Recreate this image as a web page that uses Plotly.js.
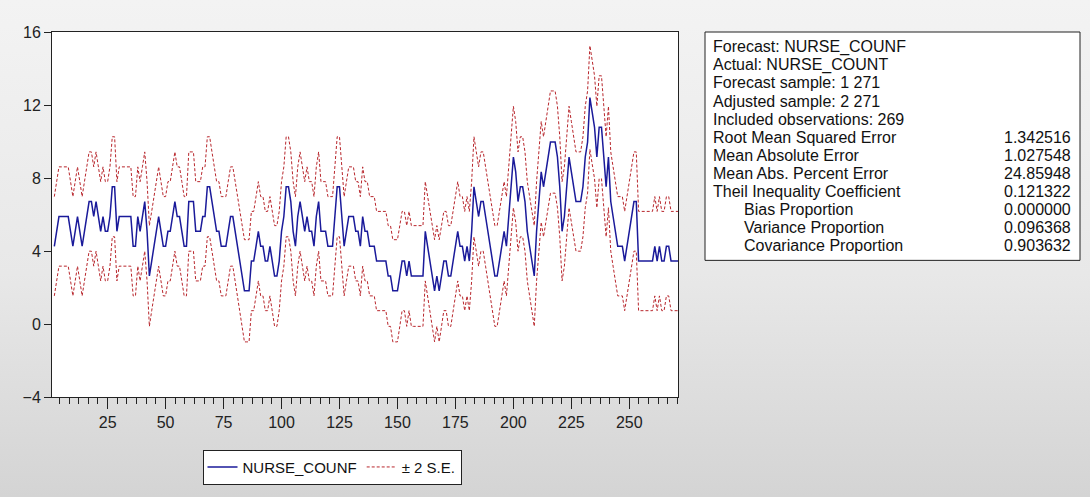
<!DOCTYPE html>
<html><head><meta charset="utf-8">
<script src="https://cdn.plot.ly/plotly-3.0.1.min.js"></script>
<style>
html,body{margin:0;padding:0;}
body{width:1090px;height:497px;background:linear-gradient(to bottom,#f3f3f3 0%,#e8e8e8 55%,#d4d4d4 100%);overflow:hidden;}
#chart{width:1090px;height:497px;}
</style></head><body><div id="chart"></div>
<script>
// Forecast NURSE_COUNF, observations 2..271
const forecast = [
4.26,5.08,5.89,5.89,5.89,5.89,5.89,5.08,4.26,5.08,5.89,5.08,4.26,5.08,5.89,6.71,6.71,5.89,6.71,5.89,5.08,5.89,5.08,5.08,5.89,7.52,7.52,5.08,5.89,5.89,5.89,5.89,5.89,5.89,
4.26,4.26,5.89,5.08,5.89,6.71,5.08,2.63,3.45,4.26,5.08,5.89,5.08,4.26,4.26,5.08,5.08,5.89,6.71,5.89,5.89,5.08,4.26,4.26,6.71,6.71,6.71,5.08,5.08,5.08,5.89,5.89,
7.52,7.52,6.71,5.89,5.08,5.08,4.26,4.26,4.26,5.08,5.89,5.89,5.08,4.26,3.45,2.63,1.82,1.82,1.82,3.45,3.45,4.26,5.08,4.26,4.26,3.45,3.45,4.26,3.45,2.63,2.63,3.45,5.08,5.89,7.52,7.52,
6.71,5.08,4.26,5.89,6.71,5.89,5.08,5.89,5.08,5.08,4.26,5.89,6.71,5.08,5.08,5.08,4.26,4.26,4.26,5.89,7.52,7.52,5.89,4.26,5.08,5.89,5.89,5.89,5.08,5.08,4.26,5.89,5.08,5.08,4.26,
4.26,4.26,3.45,3.45,3.45,3.45,3.45,2.63,2.63,1.82,1.82,1.82,2.63,3.45,3.45,2.63,3.45,2.63,2.63,2.63,2.63,2.63,2.63,5.08,4.26,3.45,2.63,1.82,2.63,1.82,2.63,3.45,3.45,2.63,
2.63,3.45,4.26,5.08,4.26,4.26,3.45,4.26,3.45,5.08,7.52,6.71,5.89,6.71,6.71,5.89,5.08,4.26,3.45,2.63,2.63,3.45,4.26,5.08,4.26,5.89,7.52,9.15,8.34,6.71,7.52,7.52,6.71,5.08,4.26,
3.45,2.63,5.08,6.71,8.34,7.52,8.34,9.15,9.97,9.97,9.97,9.15,7.52,5.08,5.89,7.52,9.15,8.34,7.52,6.71,6.71,6.71,7.52,9.15,9.97,12.41,11.60,10.78,9.15,10.78,10.78,9.15,7.52,9.15,
6.71,5.89,5.08,4.26,4.26,4.26,3.45,4.26,5.08,5.89,6.71,6.71,3.45,3.45,3.45,3.45,3.45,3.45,3.45,4.26,3.45,4.26,3.45,3.45,4.26,4.26,3.45,3.45,3.45,3.45
];
// Forecast standard errors, observations 2..271
const forecastSE = [
1.36,1.36,1.36,1.36,1.36,1.36,1.36,1.36,1.36,1.36,1.36,1.36,1.36,1.36,1.36,1.36,1.36,1.36,1.36,1.36,1.36,1.36,1.36,1.36,1.36,1.37,1.37,1.36,1.36,1.36,1.36,1.36,1.36,1.36,
1.36,1.36,1.36,1.36,1.36,1.36,1.36,1.38,1.36,1.36,1.36,1.36,1.36,1.36,1.36,1.36,1.36,1.36,1.36,1.36,1.36,1.36,1.36,1.36,1.36,1.36,1.36,1.36,1.36,1.36,1.36,1.36,
1.37,1.37,1.36,1.36,1.36,1.36,1.36,1.36,1.36,1.36,1.36,1.36,1.36,1.36,1.36,1.38,1.40,1.40,1.40,1.36,1.36,1.36,1.36,1.36,1.36,1.36,1.36,1.36,1.36,1.38,1.38,1.36,1.36,1.36,1.37,1.37,
1.36,1.36,1.36,1.36,1.36,1.36,1.36,1.36,1.36,1.36,1.36,1.36,1.36,1.36,1.36,1.36,1.36,1.36,1.36,1.36,1.37,1.37,1.36,1.36,1.36,1.36,1.36,1.36,1.36,1.36,1.36,1.36,1.36,1.36,1.36,
1.36,1.36,1.36,1.36,1.36,1.36,1.36,1.38,1.38,1.40,1.40,1.40,1.38,1.36,1.36,1.38,1.36,1.38,1.38,1.38,1.38,1.38,1.38,1.36,1.36,1.36,1.38,1.40,1.38,1.40,1.38,1.36,1.36,1.38,
1.38,1.36,1.36,1.36,1.36,1.36,1.36,1.36,1.36,1.36,1.37,1.36,1.36,1.36,1.36,1.36,1.36,1.36,1.36,1.38,1.38,1.36,1.36,1.36,1.36,1.36,1.37,1.39,1.38,1.36,1.37,1.37,1.36,1.36,1.36,
1.36,1.38,1.36,1.36,1.38,1.37,1.38,1.39,1.40,1.40,1.40,1.39,1.37,1.36,1.36,1.37,1.39,1.38,1.37,1.36,1.36,1.36,1.37,1.39,1.40,1.42,1.42,1.41,1.39,1.41,1.41,1.39,1.37,1.39,
1.36,1.36,1.36,1.36,1.36,1.36,1.36,1.36,1.36,1.36,1.36,1.36,1.36,1.36,1.36,1.36,1.36,1.36,1.36,1.36,1.36,1.36,1.36,1.36,1.36,1.36,1.36,1.36,1.36,1.36
];
const firstObs = 2;
const xTickVals = [25, 50, 75, 100, 125, 150, 175, 200, 225, 250];
const yTickVals = [-4, 0, 4, 8, 12, 16];
const seriesNames = ["NURSE_COUNF", "\u00B1 2 S.E."];
const statLabels = [
  "Forecast: NURSE_COUNF",
  "Actual: NURSE_COUNT",
  "Forecast sample: 1 271",
  "Adjusted sample: 2 271",
  "Included observations: 269",
  "Root Mean Squared Error",
  "Mean Absolute Error",
  "Mean Abs. Percent Error",
  "Theil Inequality Coefficient",
  "Bias Proportion",
  "Variance Proportion",
  "Covariance Proportion"
];
const statValues = ["", "", "", "", "", "1.342516", "1.027548", "24.85948", "0.121322", "0.000000", "0.096368", "0.903632"];
const statIndented = [false,false,false,false,false,false,false,false,false,true,true,true];

const obs = forecast.map((_, i) => i + firstObs);
const upper = forecast.map((v, i) => v + 2 * forecastSE[i]);
const lower = forecast.map((v, i) => v - 2 * forecastSE[i]);

// plot area in pixels
const W = 1090, H = 497;
const PL = 52, PR = 678, PT = 32, PB = 406;
const px2x = p => (p - PL) / (PR - PL);
const py2y = p => (PB - p) / (PB - PT);

const FONT = "Liberation Sans, Arial, sans-serif";
const blue = "#1a1a9a";
const red = "#b8262c";

const traces = [
  {x: obs, y: forecast, type: "scatter", mode: "lines", name: seriesNames[0],
   line: {color: blue, width: 1.5}},
  {x: obs, y: upper, type: "scatter", mode: "lines", name: seriesNames[1],
   line: {color: red, width: 1, dash: "3px,2px"}, legendgroup: "se"},
  {x: obs, y: lower, type: "scatter", mode: "lines", name: seriesNames[1], showlegend: false,
   line: {color: red, width: 1, dash: "3px,2px"}, legendgroup: "se"}
];

const boxTop = PT, lineH = 18.5, boxPad = 6;
const boxBottom = boxTop + boxPad * 2 + lineH * statLabels.length;
const shapes = [{
  type: "rect", xref: "paper", yref: "paper",
  x0: px2x(705), x1: px2x(1080), y0: py2y(boxBottom), y1: py2y(boxTop),
  line: {color: "#222", width: 1}, fillcolor: "#ffffff", layer: "below"
}];
const annotations = [];
statLabels.forEach((t, i) => {
  const yc = py2y(boxTop + boxPad + lineH * (i + 0.5));
  annotations.push({xref: "paper", yref: "paper", x: px2x(statIndented[i] ? 742 : 711), y: yc,
    xanchor: "left", yanchor: "middle", text: t, showarrow: false,
    font: {family: FONT, size: 16, color: "#111"}});
  if (statValues[i]) {
    annotations.push({xref: "paper", yref: "paper", x: px2x(1073), y: yc,
      xanchor: "right", yanchor: "middle", text: statValues[i], showarrow: false,
      font: {family: FONT, size: 16, color: "#111"}});
  }
});

const layout = {
  width: W, height: H,
  margin: {l: PL, r: W - PR, t: PT, b: H - PB, pad: 0},
  paper_bgcolor: "rgba(0,0,0,0)",
  plot_bgcolor: "#ffffff",
  font: {family: FONT, size: 15, color: "#222"},
  showlegend: true,
  legend: {orientation: "h", x: px2x(332), y: py2y(460), xanchor: "center", yanchor: "top",
    bgcolor: "#ffffff", bordercolor: "#222", borderwidth: 1,
    font: {family: FONT, size: 15, color: "#111"}, itemwidth: 30, tracegroupgap: 0},
  xaxis: {range: [1, 271], tickmode: "array", tickvals: xTickVals, ticks: "outside", ticklen: 11,
    tickcolor: "#222", showline: true, linecolor: "#222", linewidth: 1, mirror: true,
    showgrid: false, zeroline: false, tickfont: {family: FONT, size: 16, color: "#222"},
    minor: {tickmode: "linear", tick0: 0, dtick: 25 / 6, ticks: "outside", ticklen: 6, tickcolor: "#222", showgrid: false}},
  yaxis: {range: [-4, 16], tickmode: "array", tickvals: yTickVals, ticks: "outside", ticklen: 7,
    tickcolor: "#222", showline: true, linecolor: "#222", linewidth: 1, mirror: true,
    showgrid: false, zeroline: false, tickfont: {family: FONT, size: 16, color: "#222"}},
  shapes: shapes,
  annotations: annotations
};

Plotly.newPlot("chart", traces, layout, {staticPlot: true, displayModeBar: false});
</script></body></html>
